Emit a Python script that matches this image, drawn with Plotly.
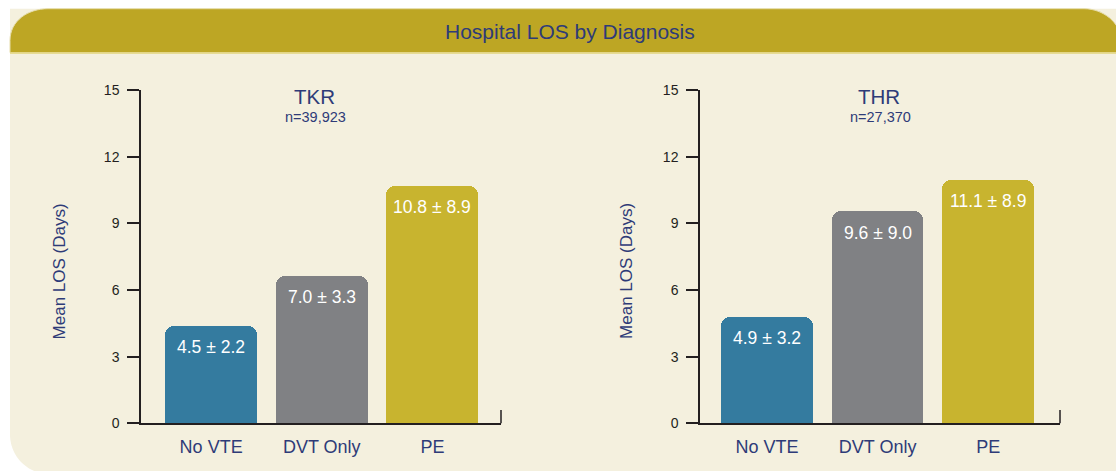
import plotly.graph_objects as go

# ---- data ----
categories = ["No VTE", "DVT Only", "PE"]
tkr_heights = [4.4, 6.65, 10.7]
thr_heights = [4.8, 9.55, 10.95]
tkr_labels = ["4.5 ± 2.2", "7.0 ± 3.3", "10.8 ± 8.9"]
thr_labels = ["4.9 ± 3.2", "9.6 ± 9.0", "11.1 ± 8.9"]
panel_titles = ["TKR", "THR"]
panel_ns = ["n=39,923", "n=27,370"]
y_ticks = [0, 3, 6, 9, 12, 15]
bar_colors = ["#347b9f", "#808184", "#c8b42f"]

W, H = 1116, 471
FONT = "Liberation Sans, Arial, sans-serif"
NAVY = "#2e3b78"
AXC = "#231f20"
HEADER = "#bda624"
CREAM = "#f4f0de"

# the captured picture maps figure rows y -> 7.3 + 0.969*y ; place items by target row
VOFF, VSC = 7.3, 0.969


def ty(t):
    return (t - VOFF) / VSC


def px(x):
    return x / W


def py(t):
    return 1 - ty(t) / H


fig = go.Figure()

for i, (heights, labels) in enumerate([(tkr_heights, tkr_labels), (thr_heights, thr_labels)]):
    xa = "x" if i == 0 else "x2"
    ya = "y" if i == 0 else "y2"
    fig.add_trace(go.Bar(
        x=categories, y=heights, xaxis=xa, yaxis=ya,
        marker=dict(color=bar_colors, line=dict(width=0), cornerradius=9),
        width=0.83, hoverinfo="skip", showlegend=False,
    ))
    for c, h, t in zip(categories, heights, labels):
        fig.add_annotation(x=c, y=h, xref=xa, yref=ya, text=t, showarrow=False,
                           yanchor="middle", yshift=-21.5,
                           font=dict(family=FONT, size=17.5, color="white"))

axis_common_x = dict(showline=True, linecolor=AXC, linewidth=1.5, ticks="",
                     showgrid=False, zeroline=False, fixedrange=True,
                     tickfont=dict(family=FONT, size=18, color=NAVY),
                     ticklabelstandoff=6)
axis_common_y = dict(range=[0, 15], tickvals=y_ticks, showline=True, linecolor=AXC,
                     linewidth=1.5, ticks="outside", ticklen=12, tickwidth=1.5,
                     tickcolor=AXC, showgrid=False, zeroline=False, fixedrange=True,
                     tickfont=dict(family=FONT, size=14, color=AXC),
                     ticklabelstandoff=5,
                     domain=[py(424), py(89.5)])

fig.update_layout(
    width=W, height=H, autosize=False, margin=dict(l=0, r=0, t=0, b=0),
    paper_bgcolor="white", plot_bgcolor="rgba(0,0,0,0)",
    bargap=0, showlegend=False,
    xaxis=dict(domain=[px(141), px(501)], range=[-0.634, 2.62], anchor="y", **axis_common_x),
    yaxis=dict(anchor="x", **axis_common_y),
    xaxis2=dict(domain=[px(700), px(1060)], range=[-0.606, 2.65], anchor="y2", **axis_common_x),
    yaxis2=dict(anchor="x2", **axis_common_y),
)

# background panel
cream_path = (f"M {px(10)},{py(8)} L {px(1130)},{py(8)} L {px(1130)},{py(475)} "
              f"L {px(50)},{py(475)} C {px(28)},{py(475)} {px(10)},{py(457)} {px(10)},{py(435)} Z")
fig.add_shape(type="path", path=cream_path, xref="paper", yref="paper",
              fillcolor=CREAM, line=dict(width=0), layer="below")
header_path = (f"M {px(10)},{py(52)} L {px(10)},{py(40)} C {px(10)},{py(20)} {px(28)},{py(8)} {px(48)},{py(8)} "
               f"L {px(1084)},{py(8)} C {px(1103)},{py(8)} {px(1121)},{py(22)} {px(1121)},{py(40)} "
               f"L {px(1121)},{py(52)} Z")
fig.add_shape(type="path", path=header_path, xref="paper", yref="paper",
              fillcolor=HEADER, line=dict(width=1, color="#e6ddaa"), layer="below")
fig.add_shape(type="line", xref="paper", yref="paper", x0=px(10), x1=1, y0=py(52.5), y1=py(52.5),
              line=dict(color="#e2d47c", width=1.5), layer="below")

# right-end ticks of x axes
for xd, ya in [("x domain", "y"), ("x2 domain", "y2")]:
    fig.add_shape(type="line", xref=xd, yref=ya, x0=1, x1=1, y0=0, y1=0.6,
                  line=dict(color=AXC, width=1.5))

# title
fig.add_annotation(x=px(570), y=py(31), xref="paper", yref="paper", text="Hospital LOS by Diagnosis",
                   showarrow=False, xanchor="center", yanchor="middle",
                   font=dict(family=FONT, size=21, color=NAVY))

# panel titles
for cx, t, n in zip([314, 879], panel_titles, panel_ns):
    fig.add_annotation(x=px(cx), y=py(96), xref="paper", yref="paper", text=t, showarrow=False,
                       xanchor="center", yanchor="middle", font=dict(family=FONT, size=20.5, color=NAVY))
    fig.add_annotation(x=px(cx + 1), y=py(117), xref="paper", yref="paper", text=n, showarrow=False,
                       xanchor="center", yanchor="middle", font=dict(family=FONT, size=14.5, color=NAVY))

# y axis titles
for cx in [59.5, 627]:
    fig.add_annotation(x=px(cx), y=py(271), xref="paper", yref="paper", text="Mean LOS (Days)",
                       showarrow=False, textangle=-90, xanchor="center", yanchor="middle",
                       font=dict(family=FONT, size=17, color=NAVY))

post = (
    "document.documentElement.style.margin='0px';"
    "document.documentElement.style.overflow='hidden';"
    "document.body.style.margin='0px';"
    "document.body.style.overflow='hidden';"
    "var gd=document.getElementById('{plot_id}');"
    "gd.style.position='fixed';gd.style.top='0px';gd.style.left='0px';"
)
fig.write_html("out.html", config={"displayModeBar": False, "responsive": False}, post_script=post)
